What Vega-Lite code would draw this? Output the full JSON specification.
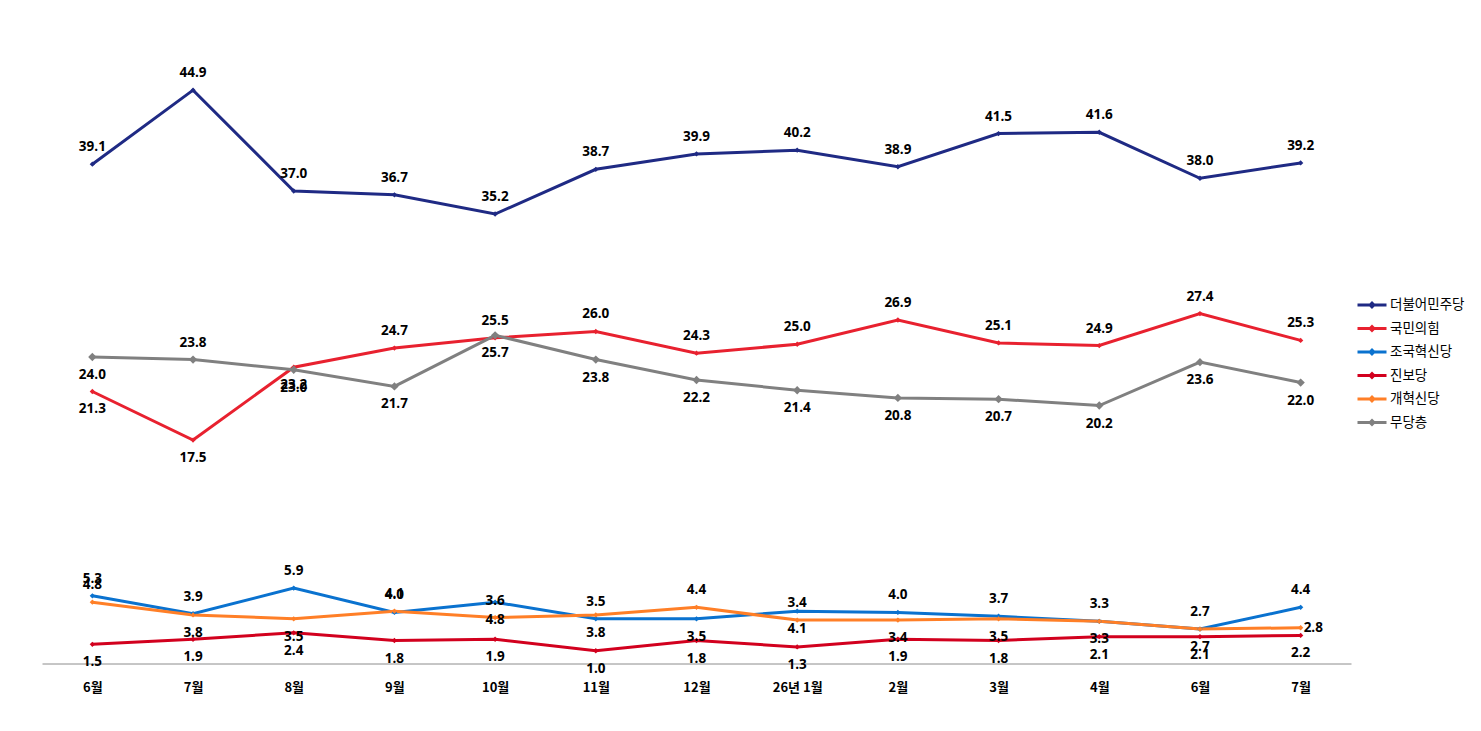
{
  "$schema": "https://vega.github.io/schema/vega-lite/v6.json",
  "description": "Monthly party support poll, six series with value labels",
  "autosize": {"type": "none"},
  "width": 1309,
  "height": 638.5,
  "padding": {"left": 42, "top": 25, "right": 130, "bottom": 67.5},
  "background": "white",
  "config": {
    "view": {"stroke": null},
    "font": "Open Sans, Noto Sans CJK KR"
  },
  "data": {
    "values": [
      {"i": 0, "더불어민주당": 39.1, "국민의힘": 21.3, "조국혁신당": 5.3, "진보당": 1.5, "개혁신당": 4.8, "무당층": 24.0},
      {"i": 1, "더불어민주당": 44.9, "국민의힘": 17.5, "조국혁신당": 3.9, "진보당": 1.9, "개혁신당": 3.8, "무당층": 23.8},
      {"i": 2, "더불어민주당": 37.0, "국민의힘": 23.2, "조국혁신당": 5.9, "진보당": 2.4, "개혁신당": 3.5, "무당층": 23.0},
      {"i": 3, "더불어민주당": 36.7, "국민의힘": 24.7, "조국혁신당": 4.0, "진보당": 1.8, "개혁신당": 4.1, "무당층": 21.7},
      {"i": 4, "더불어민주당": 35.2, "국민의힘": 25.5, "조국혁신당": 4.8, "진보당": 1.9, "개혁신당": 3.6, "무당층": 25.7},
      {"i": 5, "더불어민주당": 38.7, "국민의힘": 26.0, "조국혁신당": 3.5, "진보당": 1.0, "개혁신당": 3.8, "무당층": 23.8},
      {"i": 6, "더불어민주당": 39.9, "국민의힘": 24.3, "조국혁신당": 3.5, "진보당": 1.8, "개혁신당": 4.4, "무당층": 22.2},
      {"i": 7, "더불어민주당": 40.2, "국민의힘": 25.0, "조국혁신당": 4.1, "진보당": 1.3, "개혁신당": 3.4, "무당층": 21.4},
      {"i": 8, "더불어민주당": 38.9, "국민의힘": 26.9, "조국혁신당": 4.0, "진보당": 1.9, "개혁신당": 3.4, "무당층": 20.8},
      {"i": 9, "더불어민주당": 41.5, "국민의힘": 25.1, "조국혁신당": 3.7, "진보당": 1.8, "개혁신당": 3.5, "무당층": 20.7},
      {"i": 10, "더불어민주당": 41.6, "국민의힘": 24.9, "조국혁신당": 3.3, "진보당": 2.1, "개혁신당": 3.3, "무당층": 20.2},
      {"i": 11, "더불어민주당": 38.0, "국민의힘": 27.4, "조국혁신당": 2.7, "진보당": 2.1, "개혁신당": 2.7, "무당층": 23.6},
      {"i": 12, "더불어민주당": 39.2, "국민의힘": 25.3, "조국혁신당": 4.4, "진보당": 2.2, "개혁신당": 2.8, "무당층": 22.0}
    ]
  },
  "transform": [
    {"fold": ["더불어민주당", "국민의힘", "조국혁신당", "진보당", "개혁신당", "무당층"], "as": ["party", "v"]}
  ],
  "encoding": {
    "x": {
      "field": "i",
      "type": "ordinal",
      "scale": {"type": "point", "padding": 0.5},
      "axis": {
        "title": null,
        "labelExpr": "['6월','7월','8월','9월','10월','11월','12월','26년 1월','2월','3월','4월','6월','7월'][datum.value]",
        "labelAngle": 0,
        "labelFont": "Noto Sans CJK KR",
        "labelFontSize": 13,
        "labelFontWeight": "bold",
        "labelColor": "#000000",
        "labelPadding": 18,
        "ticks": false,
        "domainColor": "#8c8c8c",
        "domainWidth": 1,
        "grid": false
      }
    },
    "y": {
      "field": "v",
      "type": "quantitative",
      "scale": {"domain": [0, 50], "nice": false, "zero": true},
      "axis": null
    }
  },
  "layer": [
    {
      "mark": {"type": "line", "strokeWidth": 3},
      "encoding": {
        "color": {
          "field": "party",
          "type": "nominal",
          "scale": {
            "domain": ["더불어민주당", "국민의힘", "조국혁신당", "진보당", "개혁신당", "무당층"],
            "range": ["#1f2a84", "#e8212f", "#0a72cf", "#d2001e", "#ff7f27", "#808080"]
          },
          "legend": {
            "title": null,
            "orient": "none",
            "legendX": 1314,
            "legendY": 270,
            "symbolType": "M-1,0L1,0M-0.13,0L0,-0.13L0.13,0L0,0.13Z",
            "symbolSize": 841,
            "symbolStrokeWidth": 3,
            "clipHeight": 20,
            "rowPadding": 3.5,
            "labelFont": "Noto Sans CJK KR",
            "labelFontSize": 13.5,
            "labelColor": "#000000",
            "labelOffset": 2,
            "encode": {
              "symbols": {
                "update": {
                  "fill": {"scale": "color", "field": "value"},
                  "stroke": {"scale": "color", "field": "value"}
                }
              }
            }
          }
        }
      }
    },
    {
      "mark": {"type": "point", "shape": "diamond", "filled": true, "opacity": 1},
      "encoding": {
        "color": {"field": "party", "type": "nominal", "legend": null},
        "size": {"condition": {"test": "datum.party === '무당층'", "value": 70}, "value": 28}
      }
    },
    {
      "transform": [
        {"filter": "datum.party === '더불어민주당' || (datum.party === '조국혁신당' && indexof([4, 6, 7], datum.i) < 0) || (datum.party === '국민의힘' && datum.i >= 3) || (datum.party === '무당층' && datum.i === 1) || (datum.party === '개혁신당' && indexof([0, 3, 4, 6, 7], datum.i) >= 0)"}
      ],
      "mark": {"type": "text", "dy": -17, "baseline": "middle", "fontSize": 13.5, "fontWeight": "bold", "color": "#000000"},
      "encoding": {"text": {"field": "v", "type": "quantitative", "format": ".1f"}}
    },
    {
      "transform": [
        {"filter": "!(datum.party === '더불어민주당' || (datum.party === '조국혁신당' && indexof([4, 6, 7], datum.i) < 0) || (datum.party === '국민의힘' && datum.i >= 3) || (datum.party === '무당층' && datum.i === 1) || (datum.party === '개혁신당' && indexof([0, 3, 4, 6, 7, 12], datum.i) >= 0))"}
      ],
      "mark": {"type": "text", "dy": 18, "baseline": "middle", "fontSize": 13.5, "fontWeight": "bold", "color": "#000000"},
      "encoding": {"text": {"field": "v", "type": "quantitative", "format": ".1f"}}
    },
    {
      "transform": [
        {"filter": "datum.party === '개혁신당' && datum.i === 12"}
      ],
      "mark": {"type": "text", "dx": 3, "align": "left", "baseline": "middle", "fontSize": 13.5, "fontWeight": "bold", "color": "#000000"},
      "encoding": {"text": {"field": "v", "type": "quantitative", "format": ".1f"}}
    }
  ]
}
